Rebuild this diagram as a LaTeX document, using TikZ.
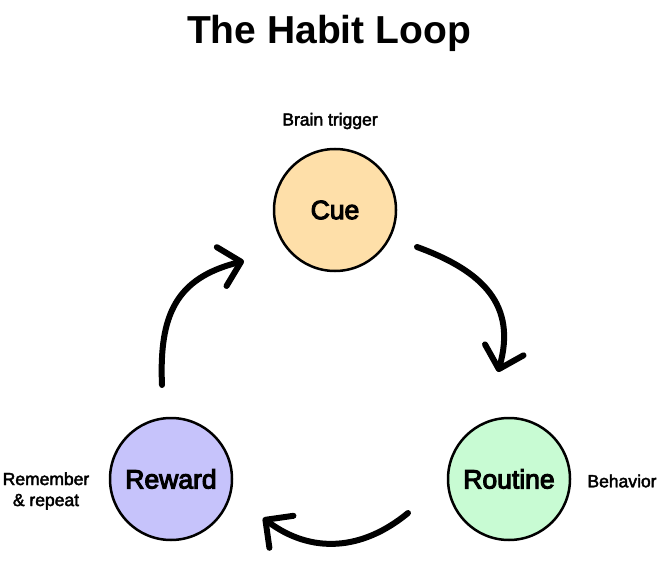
\documentclass[tikz,border=0pt]{standalone}
\usepackage{fontspec}
\setmainfont{Liberation Sans}
\newfontfamily\medfont{Liberation Sans}[FakeBold=2.5]
\newfontfamily\semifont{Liberation Sans}[FakeBold=4]
\usetikzlibrary{arrows.meta}
\definecolor{cuefill}{HTML}{FEDFA9}
\definecolor{routinefill}{HTML}{C8FBD3}
\definecolor{rewardfill}{HTML}{C6C3FB}
\begin{document}
\begin{tikzpicture}[x=1pt,y=-1pt,
  stage/.style={circle,draw=black,line width=2.5pt,minimum size=122pt,inner sep=0pt,
    font=\fontsize{26.5}{30}\semifont},
  note/.style={font=\fontsize{17.5}{21}\medfont,align=center},
  loop/.style={line width=6pt,line cap=round,
    -{Straight Barb[length=20pt,width=40pt,line cap=round,line join=round]}}]
\useasboundingbox (0,0) rectangle (658,585);
\node[font=\fontsize{39}{44}\selectfont\bfseries] (title) at (329,33) {The Habit Loop};
\node[stage,fill=cuefill] (cue) at (335,210) {Cue};
\node[stage,fill=routinefill] (routine) at (509,479) {Routine};
\node[stage,fill=rewardfill] (reward) at (171,479) {Reward};
\node[note] (cuenote) at (330,121) {Brain trigger};
\node[note] (routinenote) at (622,481) {Behavior};
\node[note] (rewardnote) at (46,491) {Remember\\\& repeat};
\coordinate (a1s) at (417,247);
\coordinate (a1e) at (498,372);
\coordinate (a2s) at (408,513);
\coordinate (a2e) at (263,518);
\coordinate (a3s) at (162,385);
\coordinate (a3e) at (244,261);
\draw[loop] (a1s) .. controls (483,271) and (517,305) .. (a1e);
\draw[loop] (a2s) .. controls (362,551) and (311,554) .. (a2e);
\draw[loop] (a3s) .. controls (159,315) and (176,278) .. (a3e);
\end{tikzpicture}
\end{document}
